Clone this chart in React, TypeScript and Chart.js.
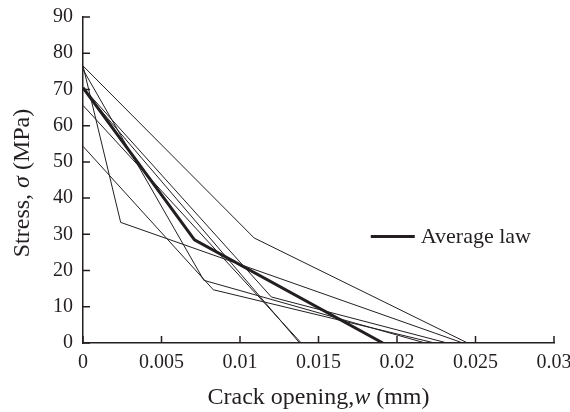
import { useEffect, useRef } from "react";
import { Chart, registerables } from "chart.js";

Chart.register(...registerables);

// ---- Data (crack opening w in mm, stress in MPa) ----
const xTickValues = [0, 0.005, 0.01, 0.015, 0.02, 0.025, 0.03];
const xTickLabels = ["0", "0.005", "0.01", "0.015", "0.02", "0.025", "0.03"];
const yTickValues = [0, 10, 20, 30, 40, 50, 60, 70, 80, 90];

const specA_w = [0, 0.0109, 0.0245];
const specA_s = [76.5, 29, 0];
const specB_w = [0, 0.0024, 0.0242];
const specB_s = [76.5, 33.3, 0];
const specC_w = [0, 0.0077, 0.0218];
const specC_s = [75.5, 17.3, 0];
const specD_w = [0, 0.0083, 0.0224];
const specD_s = [54.3, 14.7, 0];
const specE_w = [0, 0.0138];
const specE_s = [70, 0];
const specF_w = [0, 0.012, 0.0232];
const specF_s = [70.5, 12.7, 0];
const specG_w = [0, 0.0139];
const specG_s = [65.6, 0];
const avg_w = [0, 0.0071, 0.0191];
const avg_s = [70.5, 28.5, 0];

const specimens = [
  [specA_w, specA_s],
  [specB_w, specB_s],
  [specC_w, specC_s],
  [specD_w, specD_s],
  [specE_w, specE_s],
  [specF_w, specF_s],
  [specG_w, specG_s],
];

const legendLabel = "Average law";
const xTitleParts = [
  { t: "Crack opening,", italic: false },
  { t: "w", italic: true },
  { t: " (mm)", italic: false },
];
const yTitleParts = [
  { t: "Stress, ", italic: false },
  { t: "σ", italic: true },
  { t: " (MPa)", italic: false },
];

const SERIF = '"Liberation Serif", "Times New Roman", serif';
const INK = "#231f20";

const toPoints = (w: number[], s: number[]) => w.map((x, i) => ({ x, y: s[i] }));

function drawParts(ctx: CanvasRenderingContext2D, parts: { t: string; italic: boolean }[], size: number) {
  const fonts = parts.map((p) => `${p.italic ? "italic " : ""}${size}px ${SERIF}`);
  let total = 0;
  const widths = parts.map((p, i) => {
    ctx.font = fonts[i];
    const w = ctx.measureText(p.t).width;
    total += w;
    return w;
  });
  let x = -total / 2;
  parts.forEach((p, i) => {
    ctx.font = fonts[i];
    ctx.fillText(p.t, x, 0);
    x += widths[i];
  });
}

const decorPlugin = {
  id: "decor",
  afterDraw(chart: any) {
    const { ctx, chartArea, scales } = chart;
    const xs = scales.x;
    const ys = scales.y;
    ctx.save();
    ctx.strokeStyle = INK;
    ctx.lineWidth = 1.5;
    // inward tick marks
    ctx.beginPath();
    xTickValues.forEach((v) => {
      const px = xs.getPixelForValue(v);
      ctx.moveTo(px, chartArea.bottom);
      ctx.lineTo(px, chartArea.bottom - 7);
    });
    yTickValues.forEach((v) => {
      const py = ys.getPixelForValue(v);
      ctx.moveTo(chartArea.left, py);
      ctx.lineTo(chartArea.left + 7, py);
    });
    ctx.stroke();

    // legend
    const lx = chartArea.left + chartArea.width * 0.611;
    const ly = chartArea.top + chartArea.height * 0.673;
    ctx.lineWidth = 3;
    ctx.beginPath();
    ctx.moveTo(lx, ly);
    ctx.lineTo(lx + 44, ly);
    ctx.stroke();
    ctx.fillStyle = INK;
    ctx.font = `22px ${SERIF}`;
    ctx.textBaseline = "middle";
    ctx.textAlign = "left";
    ctx.fillText(legendLabel, lx + 50, ly + 1);

    // axis titles
    ctx.save();
    ctx.translate((chartArea.left + chartArea.right) / 2, chart.height - 14);
    drawParts(ctx, xTitleParts, 24);
    ctx.restore();
    ctx.save();
    ctx.translate(23, (chartArea.top + chartArea.bottom) / 2 + 3);
    ctx.rotate(-Math.PI / 2);
    drawParts(ctx, yTitleParts, 24);
    ctx.restore();
    ctx.restore();
  },
};

export default function App() {
  const ref = useRef<HTMLCanvasElement | null>(null);

  useEffect(() => {
    if (!ref.current) return;
    const datasets: any[] = specimens.map(([w, s], i) => ({
      label: `Specimen ${i + 1}`,
      data: toPoints(w, s),
      showLine: true,
      borderColor: INK,
      borderWidth: 1,
      pointRadius: 0,
      fill: false,
    }));
    datasets.push({
      label: legendLabel,
      data: toPoints(avg_w, avg_s),
      showLine: true,
      borderColor: INK,
      borderWidth: 3,
      pointRadius: 0,
      fill: false,
    });

    const chart = new Chart(ref.current, {
      type: "scatter",
      data: { datasets },
      options: {
        animation: false,
        responsive: false,
        maintainAspectRatio: false,
        layout: { padding: { top: 17, right: 16, left: 0, bottom: 0 } },
        plugins: { legend: { display: false }, tooltip: { enabled: false } },
        scales: {
          x: {
            type: "linear",
            min: 0,
            max: 0.03,
            grid: { display: false },
            border: { display: true, color: INK, width: 1.5 },
            afterBuildTicks: (scale: any) => {
              scale.ticks = xTickValues.map((v) => ({ value: v }));
            },
            afterFit: (scale: any) => {
              scale.height = 69;
              scale.paddingLeft = 0;
              scale.paddingRight = 0;
            },
            ticks: {
              autoSkip: false,
              maxRotation: 0,
              color: INK,
              padding: 0,
              font: { family: SERIF, size: 20 },
              callback: (v: any) => {
                const i = xTickValues.findIndex((t) => Math.abs(t - Number(v)) < 1e-9);
                return i >= 0 ? xTickLabels[i] : "";
              },
            },
          },
          y: {
            type: "linear",
            min: 0,
            max: 90,
            grid: { display: false },
            border: { display: true, color: INK, width: 1.5 },
            afterBuildTicks: (scale: any) => {
              scale.ticks = yTickValues.map((v) => ({ value: v }));
            },
            afterFit: (scale: any) => {
              scale.width = 83;
              scale.paddingTop = 0;
              scale.paddingBottom = 0;
            },
            ticks: {
              autoSkip: false,
              color: INK,
              padding: 2,
              font: { family: SERIF, size: 20 },
            },
          },
        },
      },
      plugins: [decorPlugin],
    });
    return () => chart.destroy();
  }, []);

  return (
    <div style={{ position: "fixed", left: 0, top: 0, width: 570, height: 412, background: "#fff" }}>
      <canvas ref={ref} width={570} height={412} style={{ display: "block" }} />
    </div>
  );
}
